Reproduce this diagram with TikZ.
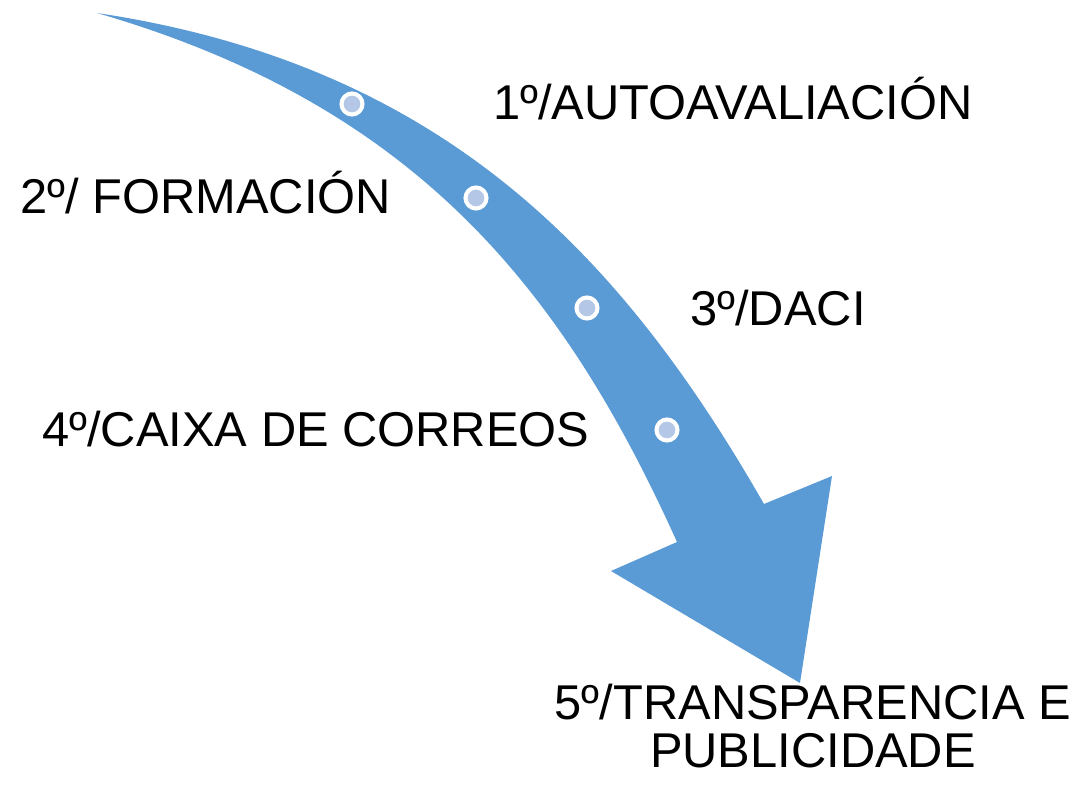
\documentclass[tikz,border=0pt]{standalone}
\usepackage{fontspec}
\setmainfont{Liberation Sans}
\definecolor{arrowblue}{HTML}{5B9BD5}
\definecolor{dotfill}{HTML}{B4C7E7}
\begin{document}
\begin{tikzpicture}[x=0.02cm,y=-0.02cm,
  lbl/.style={inner sep=0pt,font=\fontsize{27.8}{27.5}\selectfont,anchor=base west},
  dot/.style={circle,fill=dotfill,draw=white,line width=2.3pt,minimum size=0.42cm,inner sep=0pt}]
\useasboundingbox (0,0) rectangle (1090,787);
\fill[arrowblue] (97,13) .. controls (447,65.5) and (624,260) .. (764,504)
  -- (832,476) -- (800,683) -- (611,571) -- (677,542)
  .. controls (562,287) and (414,105) .. (97,13) -- cycle;
\node[dot] (d1) at (352,104) {};
\node[dot] (d2) at (476,198) {};
\node[dot] (d3) at (587,308) {};
\node[dot] (d4) at (667,430) {};
\node[lbl] (t1) at (493,120) {1º/AUTOAVALIACIÓN};
\node[lbl] (t2) at (20,214) {2º/ FORMACIÓN};
\node[lbl] (t3) at (690,326) {3º/DACI};
\node[lbl] (t4) at (42,447) {4º/CAIXA DE CORREOS};
\node[inner sep=0pt,font=\fontsize{27.8}{27.5}\selectfont,align=center,anchor=center] (t5) at (813,726) {5º/TRANSPARENCIA E\\PUBLICIDADE};
\end{tikzpicture}
\end{document}
